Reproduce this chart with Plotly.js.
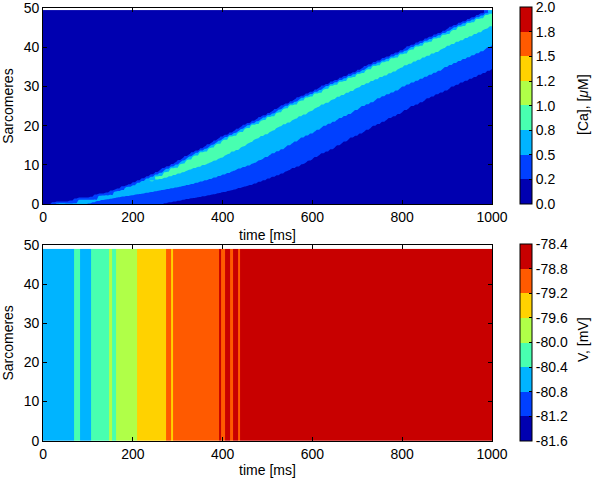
<!DOCTYPE html>
<html>
<head>
<meta charset="utf-8">
<script src="https://cdn.plot.ly/plotly-3.0.1.min.js"></script>
<style>
  body { margin: 0; background: #fff; }
  #chart { width: 600px; height: 478px; }
</style>
</head>
<body>
<div id="chart"></div>
<script>
// Time at which the calcium front reaches each sarcomere row (ms)
const arrival = [
  10, 60, 105, 138, 164, 187, 208, 228, 247, 265,
  282, 298, 314, 330, 346, 362, 378, 394, 411, 428,
  445, 462, 479, 496, 513, 530, 547, 564, 582, 601,
  620, 639, 658, 677, 696, 715, 734, 753, 772, 791,
  810, 829, 848, 867, 886, 905, 924, 943, 962, 981
]

// Peak scaling per row (the wave is still building up in the first rows)
const gain = [
  0.62, 0.58, 0.6, 0.65, 0.72, 0.78, 0.83, 0.87, 0.9, 0.93,
  0.96, 0.98, 1, 1, 1, 1, 1, 1, 1, 1,
  1, 1, 1, 1, 1, 1, 1, 1, 1, 1,
  1, 1, 1, 1, 1, 1, 1, 1, 1, 1,
  1, 1, 1, 1, 1, 1, 1, 1, 1, 1.2
]

// [Ca] in a sarcomere after the front passes, one value per 10 ms bin (uM)
const caProfile = [
  0.3, 0.55, 0.88, 0.9, 0.87, 0.84, 0.81, 0.78, 0.76, 0.73,
  0.7, 0.675, 0.65, 0.625, 0.6, 0.575, 0.55, 0.525, 0.5, 0.475,
  0.455, 0.435, 0.415, 0.395, 0.375, 0.35, 0.325, 0.3, 0.275, 0.25,
  0.23, 0.21, 0.19, 0.175, 0.16, 0.15, 0.14, 0.13
]
const caRest = 0.1

// Membrane voltage: segment edges (ms) and the level inside each segment (mV)
const vEdges = [0, 69, 82, 108, 146, 153, 163, 209, 273, 285, 289, 391, 396, 406, 417, 423, 435, 438, 1000]
const vLevels = [
  -80.6, -80.2, -80.6, -80.2, -79.8, -80.2, -79.8, -79.4, -79.0,
  -79.4, -79.0, -78.6, -79.0, -78.6, -79.0, -78.6, -79.0, -78.6
]

// Colour bar ticks
const caTicks = [0, 0.25, 0.5, 0.75, 1, 1.25, 1.5, 1.75, 2]
const caTickText = ['0.0', '0.2', '0.5', '0.8', '1.0', '1.2', '1.5', '1.8', '2.0']
const vTicks = [-81.6, -81.2, -80.8, -80.4, -80.0, -79.6, -79.2, -78.8, -78.4]

const jet8 = ['#0000b0', '#0040ff', '#00b4ff', '#48ffb0', '#b0ff48', '#ffd200', '#ff5a00', '#c80000']

function stepScale(colors) {
  const scale = []
  colors.forEach((c, i) => {
    scale.push([i / colors.length, c])
    scale.push([(i + 1) / colors.length, c])
  })
  return scale
}

// Build the Ca grid: row s, time t -> profile bin since the front arrived
const timeGrid = []
for (let t = 0; t <= 1000; t += 5) timeGrid.push(t)
const rows = arrival.map((_, i) => i)
const caZ = arrival.map((a, s) =>
  timeGrid.map(t => {
    const k = Math.floor((t - a) / 10)
    if (k < 0 || k >= caProfile.length) return caRest
    return caRest + (caProfile[k] - caRest) * gain[s]
  })
)

const font = { family: 'Liberation Sans, Arial, sans-serif', size: 14, color: '#000' }

const axisBase = {
  showline: true,
  mirror: 'ticks',
  linecolor: '#000',
  linewidth: 1,
  ticks: 'inside',
  ticklen: 4,
  tickcolor: '#000',
  showgrid: false,
  zeroline: false,
  tickfont: font
}

function colorbar(y, vals, text) {
  return {
    x: 0.867,
    xanchor: 'left',
    y: y,
    yanchor: 'top',
    len: 0.412,
    lenmode: 'fraction',
    thickness: 12,
    thicknessmode: 'pixels',
    xpad: 0,
    ypad: 0,
    outlinewidth: 1,
    outlinecolor: '#000',
    ticks: 'inside',
    ticklen: 3,
    tickcolor: '#000',
    tickvals: vals,
    ticktext: text,
    tickfont: font,
    ticklabeloverflow: 'allow'
  }
}

// heatmap underneath only to carry the [0, 2] colour bar; the contour covers it
const caScale = {
  type: 'heatmap',
  x: timeGrid,
  y: rows,
  z: caZ,
  zmin: 0,
  zmax: 2,
  colorscale: stepScale(jet8),
  colorbar: colorbar(0.985, caTicks, caTickText),
  hoverinfo: 'skip'
}

const caTrace = {
  type: 'contour',
  x: timeGrid,
  y: rows,
  z: caZ,
  zmin: 0,
  zmax: 2,
  autocontour: false,
  contours: { start: 0, end: 2, size: 0.25, coloring: 'fill', showlines: false },
  line: { width: 0, smoothing: 0 },
  colorscale: stepScale(jet8),
  showscale: false,
  hoverinfo: 'skip'
}

const vTrace = {
  type: 'heatmap',
  x: vEdges,
  y: [0, 49],
  z: [vLevels],
  xaxis: 'x2',
  yaxis: 'y2',
  zmin: -81.6,
  zmax: -78.4,
  zsmooth: false,
  colorscale: stepScale(jet8),
  colorbar: colorbar(0.4895, vTicks, vTicks.map(v => v.toFixed(1))),
  hoverinfo: 'skip'
}

const timeTicks = [0, 200, 400, 600, 800, 1000]
const rowTicks = [0, 10, 20, 30, 40, 50]

const layout = {
  width: 600,
  height: 478,
  margin: { l: 0, r: 0, t: 0, b: 0 },
  paper_bgcolor: '#fff',
  plot_bgcolor: '#fff',
  font: font,
  showlegend: false,
  xaxis: Object.assign({}, axisBase, {
    domain: [0.0717, 0.82], range: [0, 1000], tickvals: timeTicks, anchor: 'y',
    title: { text: 'time [ms]', font: font, standoff: 6 }
  }),
  yaxis: Object.assign({}, axisBase, {
    domain: [0.573, 0.983], range: [0, 50], tickvals: rowTicks, anchor: 'x',
    title: { text: 'Sarcomeres', font: font, standoff: 8 }
  }),
  xaxis2: Object.assign({}, axisBase, {
    domain: [0.0717, 0.82], range: [0, 1000], tickvals: timeTicks, anchor: 'y2',
    title: { text: 'time [ms]', font: font, standoff: 6 }
  }),
  yaxis2: Object.assign({}, axisBase, {
    domain: [0.078, 0.4874], range: [0, 50], tickvals: rowTicks, anchor: 'x2',
    title: { text: 'Sarcomeres', font: font, standoff: 8 }
  }),
  // colour bar labels, reading bottom to top like the original
  annotations: [
    {
      text: '[Ca], [<i>μ</i>M]', textangle: -90, font: font, showarrow: false,
      xref: 'paper', yref: 'paper', x: 583 / 600, y: 1 - 105 / 478,
      xanchor: 'center', yanchor: 'middle'
    },
    {
      text: 'V, [mV]', textangle: -90, font: font, showarrow: false,
      xref: 'paper', yref: 'paper', x: 583 / 600, y: 1 - 340 / 478,
      xanchor: 'center', yanchor: 'middle'
    }
  ]
}

Plotly.newPlot('chart', [caScale, caTrace, vTrace], layout, { displayModeBar: false, staticPlot: true })
</script>
</body>
</html>
